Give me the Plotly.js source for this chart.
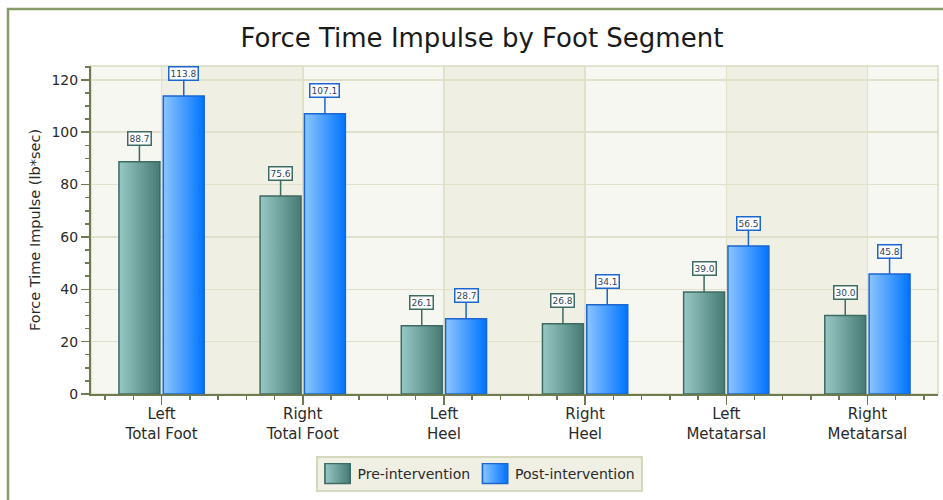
<!DOCTYPE html>
<html>
<head>
<meta charset="utf-8">
<script src="https://cdn.plot.ly/plotly-3.0.1.min.js"></script>
<style>
  html, body { margin: 0; padding: 0; background: #ffffff; }
  #chart { width: 943px; height: 500px; }
</style>
</head>
<body>
<div id="chart"></div>
<script>
// ---- data ----
const categories = ["Left<br>Total Foot", "Right<br>Total Foot", "Left<br>Heel", "Right<br>Heel", "Left<br>Metatarsal", "Right<br>Metatarsal"];
const seriesNames = ["Pre-intervention", "Post-intervention"];
const preValues = [88.7, 75.6, 26.1, 26.8, 39.0, 30.0];
const postValues = [113.8, 107.1, 28.7, 34.1, 56.5, 45.8];
const chartTitle = "Force Time Impulse by Foot Segment";
const yTitle = "Force Time Impulse (lb*sec)";

// ---- styling ----
const FONT = "DejaVu Sans, Verdana, sans-serif";
const barWidth = 0.29;
const offsets = [-0.302, 0.012];
const seriesStyle = [
  { fill: "#6fa39d", line: "#3e6a64", g1: "#98c8c3", g2: "#477a74", label: "#3e6a64" },
  { fill: "#3f9dff", line: "#1b66cf", g1: "#8cc5ff", g2: "#0074ff", label: "#1b66cf" }
];
const xIdx = categories.map((_, i) => i);
const allValues = [preValues, postValues];

const traces = allValues.map((vals, k) => ({
  type: "bar",
  name: seriesNames[k],
  x: xIdx,
  y: vals,
  width: barWidth,
  offset: offsets[k],
  marker: { color: seriesStyle[k].fill, line: { color: seriesStyle[k].line, width: 1.5 } },
  hoverinfo: "none"
}));

const annotations = [];
allValues.forEach((vals, k) => {
  vals.forEach((v, i) => {
    annotations.push({
      x: i + offsets[k] + barWidth / 2, y: v, xref: "x", yref: "y",
      text: v.toFixed(1), showarrow: true, arrowhead: 0, arrowwidth: 1.5,
      arrowcolor: seriesStyle[k].label, ax: 0, ay: -23, standoff: 0,
      bgcolor: "#ffffff", bordercolor: seriesStyle[k].label, borderwidth: 1.5, borderpad: 1,
      font: { family: FONT, size: 9, color: "#2e3f5c" }
    });
  });
});

// background stripes between category centres
const shapes = [];
for (let i = 0; i < categories.length - 1; i += 2) {
  shapes.push({ type: "rect", layer: "below", xref: "x", yref: "paper", x0: i, x1: i + 1, y0: 0, y1: 1,
    fillcolor: "#efefe4", line: { width: 0 } });
}
// plot frame (top/right)
shapes.push({ type: "rect", xref: "paper", yref: "paper", x0: 0, x1: 1, y0: 0, y1: 1,
  line: { color: "#d9dcc2", width: 1.5 }, layer: "below" });
// outer chart border (left and top)
shapes.push({ type: "path", xref: "paper", yref: "paper",
  path: "M -0.0980,-0.40 L -0.0980,1.1738 L 1.02,1.1738",
  line: { color: "#879a68", width: 2.5 } });

const layout = {
  width: 943, height: 500,
  margin: { l: 91, r: 5, t: 66, b: 106 },
  paper_bgcolor: "#ffffff",
  plot_bgcolor: "#f7f7f1",
  font: { family: FONT, color: "#2a2a2a" },
  title: { text: chartTitle, font: { family: FONT, size: 26, color: "#1a1a1a" },
    xref: "container", x: 0.511, xanchor: "center", yref: "container", y: 0.924, yanchor: "middle" },
  showlegend: true,
  legend: {
    orientation: "h", xref: "container", yref: "container", x: 0.508, xanchor: "center", y: 0.052, yanchor: "middle",
    bgcolor: "#efefe3", bordercolor: "#d6d8bc", borderwidth: 2,
    font: { family: FONT, size: 14, color: "#2a2a2a" }, traceorder: "normal"
  },
  xaxis: {
    range: [-0.5, 5.5], tickmode: "array", tickvals: xIdx, ticktext: categories,
    showgrid: true, gridcolor: "#e0e0cb", gridwidth: 1.5,
    showline: true, linecolor: "#6e7a50", linewidth: 2,
    ticks: "outside", ticklen: 9, tickwidth: 1.5, tickcolor: "#6e7a50",
    ticklabelstandoff: -4,
    tickfont: { family: FONT, size: 15, color: "#2a2a2a" },
    minor: { dtick: 0.2, tick0: 0, ticks: "outside", ticklen: 4, tickwidth: 1.5, tickcolor: "#6e7a50", showgrid: false },
    zeroline: false, fixedrange: true
  },
  yaxis: {
    range: [0, 125.3], dtick: 20, tick0: 0,
    showgrid: true, gridcolor: "#e0e0cb", gridwidth: 1.5,
    showline: true, linecolor: "#6e7a50", linewidth: 2,
    ticks: "outside", ticklen: 8, tickwidth: 1.5, tickcolor: "#6e7a50",
    tickfont: { family: FONT, size: 14, color: "#2a2a2a" },
    minor: { dtick: 5, ticks: "outside", ticklen: 4, tickwidth: 1.5, tickcolor: "#6e7a50", showgrid: false },
    title: { text: yTitle, font: { family: FONT, size: 14.5, color: "#2a2a2a" }, standoff: 7 },
    zeroline: false, fixedrange: true
  },
  annotations: annotations,
  shapes: shapes
};

const gd = document.getElementById("chart");
Plotly.newPlot(gd, traces, layout, { staticPlot: true, displayModeBar: false }).then(() => {
  const ns = "http://www.w3.org/2000/svg";
  const svg = gd.querySelector("svg.main-svg");
  let defs = svg.querySelector("defs");
  if (!defs) { defs = document.createElementNS(ns, "defs"); svg.insertBefore(defs, svg.firstChild); }
  seriesStyle.forEach((s, k) => {
    const g = document.createElementNS(ns, "linearGradient");
    g.setAttribute("id", "barGrad" + k);
    g.setAttribute("x1", "0"); g.setAttribute("y1", "0"); g.setAttribute("x2", "1"); g.setAttribute("y2", "0");
    [[0, s.g1], [1, s.g2]].forEach(([o, c]) => {
      const st = document.createElementNS(ns, "stop");
      st.setAttribute("offset", o); st.setAttribute("stop-color", c);
      g.appendChild(st);
    });
    defs.appendChild(g);
  });
  gd.querySelectorAll(".barlayer .trace").forEach((t, k) => {
    t.querySelectorAll("path").forEach(p => { p.style.fill = "url(#barGrad" + k + ")"; });
  });
  gd.querySelectorAll(".legend .traces").forEach((t, k) => {
    t.querySelectorAll(".legendpoints path").forEach(p => {
      p.style.fill = "url(#barGrad" + k + ")";
      const tr = p.getAttribute("transform") || "";
      p.setAttribute("transform", tr + " scale(2.1,1.65)");
      p.style.strokeWidth = "0.8px";
    });
  });
});
</script>
</body>
</html>
